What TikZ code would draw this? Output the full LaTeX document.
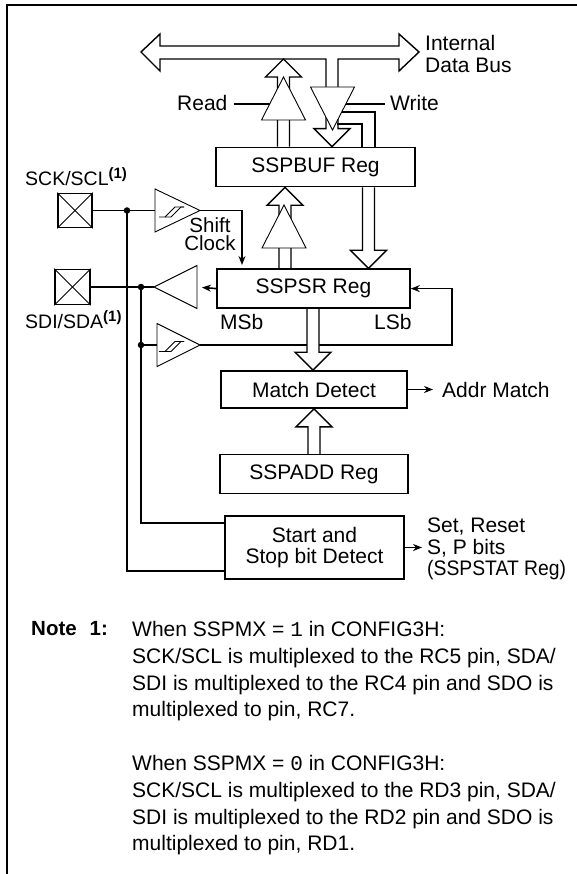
\documentclass[tikz,border=0pt]{standalone}
\usepackage{fontspec}
\setmainfont{Liberation Sans}
\setmonofont{Liberation Mono}
\usetikzlibrary{positioning,arrows.meta,backgrounds,calc,shapes.geometric}

\newcommand{\pinref}{\raisebox{7pt}{\fontsize{15}{15}\selectfont\bfseries (1)}}
% tip, tail, direction (1 = up, -1 = down)
\newcommand{\bus}[3]{\draw[busline] ($(#1 |- #2)+(-6,0)$) -- ($(#1)+(-6,#3*18)$) -- ($(#1)+(-18,#3*18)$) -- (#1) -- ($(#1)+(18,#3*18)$) -- ($(#1)+(6,#3*18)$) -- ($(#1 |- #2)+(6,0)$);}

\tikzset{
regbox/.style={draw,line width=1.6pt,fill=white,inner sep=0pt,minimum height=39pt},
pinbox/.style={draw,line width=1.6pt,fill=white,inner sep=0pt},
buffer/.style={isosceles triangle,isosceles triangle stretches,draw,line width=0.9pt,fill=white,inner sep=0pt,outer sep=0pt,anchor=apex},
lbl/.style={inner sep=0pt},
sig/.style={line width=1.6pt},
sigarrow/.style={line width=1.6pt,-{Stealth[length=9pt,width=7pt]}},
busline/.style={line width=1.4pt,fill=white},
dot/.style={circle,fill=black,inner sep=0pt,minimum size=6.5pt},
every node/.style={font=\fontsize{21}{21}\selectfont}
}

\begin{document}
\begin{tikzpicture}[x=1pt,y=-1pt]
\useasboundingbox (0,0) rectangle (577,874);

\draw[line width=2pt] (6.5,874) -- (6.5,5) -- (577,5);

\node[regbox,minimum width=199pt] (sspbuf) at (315.5,167) {SSPBUF Reg};
\node[regbox,below=81pt of sspbuf,xshift=-2pt,minimum width=193pt] (sspsr) {SSPSR Reg};
\node[regbox,minimum width=186pt,minimum height=37pt] (match) at (314,389.5) {Match Detect};
\node[regbox,below=45pt of match,minimum width=188pt] (sspadd) {SSPADD Reg};
\node[regbox,minimum width=179pt,minimum height=63pt,align=center] (startstop) at (314.5,547.5) {Start and\\Stop bit Detect};

\node[buffer,shape border rotate=90,minimum width=44pt,minimum height=43pt] (rdbuf) at (283.5,77) {};
\node[buffer,shape border rotate=-90,minimum width=44pt,minimum height=43pt] (wrbuf) at (332.5,130) {};
\node[buffer,shape border rotate=90,minimum width=44pt,minimum height=43pt] (shbuf) at (284,205) {};
\node[buffer,minimum width=43pt,minimum height=45pt] (sckbuf) at (200,210.5) {};
\node[buffer,shape border rotate=180,minimum width=43pt,minimum height=43pt] (txbuf) at (154,287) {};
\node[buffer,minimum width=43pt,minimum height=43pt] (rxbuf) at (200,345) {};

\node[pinbox,minimum width=34pt,minimum height=34pt] (sck) at (75,210.5) {};
\node[pinbox,minimum width=35pt,minimum height=35pt] (sdi) at (72.5,287) {};
\foreach \pin in {sck,sdi}
{
\draw[line width=0.8pt] (\pin.north west) -- (\pin.south east);
\draw[line width=0.8pt] (\pin.north east) -- (\pin.south west);
}

\node[dot] (dotsck) at (127,210.5) {};
\node[dot] (dotsdi) at (141,287) {};
\node[dot] (dotrx) at (141,345) {};

\node[lbl,anchor=west] (read) at (177,103) {Read};
\node[lbl,anchor=west] (write) at (390,103) {Write};
\node[lbl,anchor=west,align=left,font=\fontsize{21}{22}\selectfont] (intbus) at (425,54) {Internal\\Data Bus};
\node[lbl,anchor=west,font=\fontsize{19.5}{19.5}\selectfont] (scklbl) at (25,177) {SCK/SCL\pinref};
\node[lbl,anchor=west,font=\fontsize{19.5}{19.5}\selectfont] (sdilbl) at (25,320) {SDI/SDA\pinref};
\node[lbl,align=center,font=\fontsize{20.5}{18}\selectfont] (shift) at (210,234.5) {Shift\\Clock};
\node[lbl,anchor=west] (msb) at (220,322) {MSb};
\node[lbl,anchor=west] (lsb) at (374,322) {LSb};
\node[lbl,anchor=west] (addr) at (442,390) {Addr Match};
\node[lbl,anchor=west,align=left,font=\fontsize{21}{21.5}\selectfont] (setreset) at (427,549) {Set, Reset\\S, P bits\\\scalebox{0.92}[1]{(SSPSTAT Reg)}};

\node[lbl,anchor=north west,font=\fontsize{20.5}{20.5}\bfseries] (note) at (31,621) {Note\hspace{13pt}1:};
\node[lbl,anchor=north west,align=left,font=\fontsize{21}{26.8}\selectfont] (notetext) at (132,621) {When SSPMX = {\ttfamily 1} in CONFIG3H:\\SCK/SCL is multiplexed to the RC5 pin, SDA/\\SDI is multiplexed to the RC4 pin and SDO is\\multiplexed to pin, RC7.\\[26.8pt]When SSPMX = {\ttfamily 0} in CONFIG3H:\\SCK/SCL is multiplexed to the RD3 pin, SDA/\\SDI is multiplexed to the RD2 pin and SDO is\\multiplexed to pin, RD1.};

\coordinate (tiprd) at (283.5,0 |- 0,59);
\coordinate (tipwr) at (332,0 |- sspbuf.north);
\coordinate (tipsh) at (285,0 |- sspbuf.south);
\coordinate (tipsr) at (368.5,0 |- sspsr.north);
\coordinate (tipmd) at (313,0 |- match.north);
\coordinate (tipad) at (314,0 |- match.south);
\coordinate (shiftin) at (242,265);
\coordinate (fbk) at (452,0 |- sspsr.east);
\coordinate (wrinner) at (337,124);
\coordinate (wrouter) at (340,112);

\begin{pgfonlayer}{background}
\draw[sig] (read.east) ++(6,1) -- (rdbuf.center |- 0,104);
\draw[sig] (write.west) ++(-5,1) -- (wrbuf.center |- 0,104);
\draw[sig] (sck.east) -- (sckbuf.lower side);
\draw[sig] (sdi.east) -- (txbuf.apex);
\draw[sig] (dotrx.center) -- (rxbuf.lower side);
\draw[sig] (dotsdi.center) -- (dotrx.center);
\draw[sig] (dotrx.center) |- (startstop.west |- 0,523);
\draw[sig] (dotsck.center) |- (startstop.west |- 0,571);
\draw[sigarrow] (sckbuf.apex) -| (shiftin);
\draw[sigarrow,shorten >=5pt] (sspsr.west) -- (txbuf.lower side);
\draw[sigarrow,shorten >=-2pt] (rxbuf.apex) -| (fbk) -- ($(sspsr.east)+(2,0)$);
\draw[sigarrow] (match.east) -- (433,0 |- match.east);
\draw[sigarrow] (startstop.east) -- (422,0 |- startstop.east);

\draw[busline] (326,87) -- (326,59) -- (160,59) -- (160,71) -- (141,52) -- (160,34) -- (160,46) -- (399,46) -- (399,34) -- (419,52) -- (399,71) -- (399,59) -- (338,59) -- (338,87);
\bus{tiprd}{sspbuf.north}{1}
\bus{tipwr}{wrbuf.center}{-1}
\bus{tipsh}{sspsr.north}{1}
\bus{tipsr}{sspbuf.south}{-1}
\bus{tipmd}{sspsr.south}{-1}
\bus{tipad}{sspadd.north}{1}
\draw[busline,fill=none] (362,0 |- sspbuf.north) |- (wrinner);
\draw[busline,fill=none] (375,0 |- sspbuf.north) |- (wrouter);
\end{pgfonlayer}

% hysteresis marks in the two input buffers
\foreach \b in {sckbuf,rxbuf}
{
\draw[line width=0.8pt] ($(\b.apex)+(-41,6.5)$) -- ++(12,0) -- ++(10,-10) -- ++(3,0);
\draw[line width=0.8pt] ($(\b.apex)+(-35,6.5)$) -- ++(10,-10) -- ++(9,0);
}
\end{tikzpicture}
\end{document}
